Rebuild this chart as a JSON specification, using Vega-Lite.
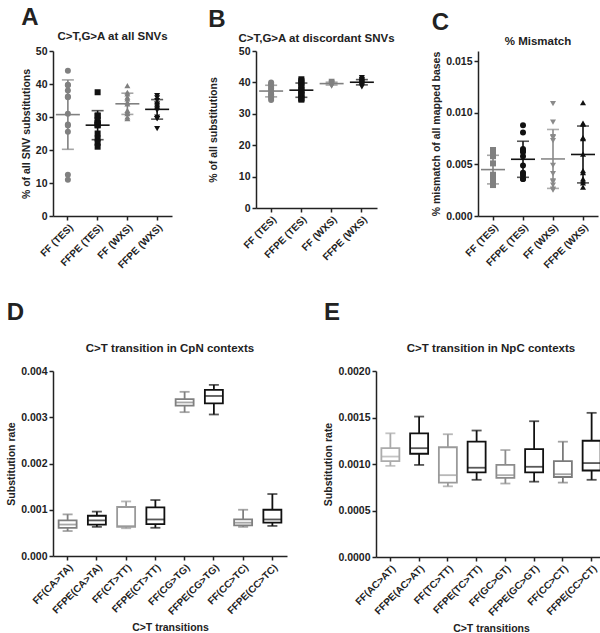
{
  "$schema": "https://vega.github.io/schema/vega-lite/v6.json",
  "padding": {"left": 6, "top": 5, "right": 0, "bottom": 0},
  "background": "white",
  "resolve": {"scale": {"color": "independent", "shape": "independent", "stroke": "independent"}},
  "config": {
    "font": "Liberation Sans",
    "view": {"stroke": null},
    "axis": {"grid": false, "domainColor": "#222", "domainWidth": 1.5, "tickColor": "#222", "tickWidth": 1.5, "tickSize": 4, "labelFont": "Liberation Sans", "labelFontWeight": "bold", "labelColor": "#222", "labelFontSize": 10.5, "titleFont": "Liberation Sans", "titleFontSize": 10.5, "titleFontWeight": "bold", "titleColor": "#222", "labelPadding": 2, "titlePadding": 4},
    "axisX": {"labelAngle": -45, "labelFontSize": 10},
    "title": {"font": "Liberation Sans", "fontSize": 11.5, "fontWeight": "bold", "color": "#222"}
  },
  "datasets": {
    "A": [
      {"g": "FF (TES)", "v": 44}, {"g": "FF (TES)", "v": 39.8}, {"g": "FF (TES)", "v": 39.6}, {"g": "FF (TES)", "v": 38}, {"g": "FF (TES)", "v": 36}, {"g": "FF (TES)", "v": 36.2}, {"g": "FF (TES)", "v": 31}, {"g": "FF (TES)", "v": 27.4}, {"g": "FF (TES)", "v": 27.7}, {"g": "FF (TES)", "v": 25.5}, {"g": "FF (TES)", "v": 12.5}, {"g": "FF (TES)", "v": 11},
      {"g": "FFPE (TES)", "v": 37.5}, {"g": "FFPE (TES)", "v": 30.5}, {"g": "FFPE (TES)", "v": 30.3}, {"g": "FFPE (TES)", "v": 29}, {"g": "FFPE (TES)", "v": 28.3}, {"g": "FFPE (TES)", "v": 28}, {"g": "FFPE (TES)", "v": 27.5}, {"g": "FFPE (TES)", "v": 27.5}, {"g": "FFPE (TES)", "v": 25}, {"g": "FFPE (TES)", "v": 23.5}, {"g": "FFPE (TES)", "v": 22.2}, {"g": "FFPE (TES)", "v": 21},
      {"g": "FF (WXS)", "v": 39.5}, {"g": "FF (WXS)", "v": 37.5}, {"g": "FF (WXS)", "v": 37}, {"g": "FF (WXS)", "v": 36}, {"g": "FF (WXS)", "v": 35.5}, {"g": "FF (WXS)", "v": 34.5}, {"g": "FF (WXS)", "v": 34}, {"g": "FF (WXS)", "v": 32}, {"g": "FF (WXS)", "v": 31.5}, {"g": "FF (WXS)", "v": 31}, {"g": "FF (WXS)", "v": 30}, {"g": "FF (WXS)", "v": 29.5},
      {"g": "FFPE (WXS)", "v": 36.5}, {"g": "FFPE (WXS)", "v": 35.8}, {"g": "FFPE (WXS)", "v": 35}, {"g": "FFPE (WXS)", "v": 34}, {"g": "FFPE (WXS)", "v": 33.5}, {"g": "FFPE (WXS)", "v": 33}, {"g": "FFPE (WXS)", "v": 32.5}, {"g": "FFPE (WXS)", "v": 32}, {"g": "FFPE (WXS)", "v": 30}, {"g": "FFPE (WXS)", "v": 29.5}, {"g": "FFPE (WXS)", "v": 29.5}, {"g": "FFPE (WXS)", "v": 26.5}
    ],
    "B": [
      {"g": "FF (TES)", "v": 40}, {"g": "FF (TES)", "v": 39.5}, {"g": "FF (TES)", "v": 39.2}, {"g": "FF (TES)", "v": 38.5}, {"g": "FF (TES)", "v": 38}, {"g": "FF (TES)", "v": 37.5}, {"g": "FF (TES)", "v": 37}, {"g": "FF (TES)", "v": 36.3}, {"g": "FF (TES)", "v": 36}, {"g": "FF (TES)", "v": 35.5}, {"g": "FF (TES)", "v": 35}, {"g": "FF (TES)", "v": 34.4},
      {"g": "FFPE (TES)", "v": 41}, {"g": "FFPE (TES)", "v": 40.5}, {"g": "FFPE (TES)", "v": 40}, {"g": "FFPE (TES)", "v": 39}, {"g": "FFPE (TES)", "v": 38.5}, {"g": "FFPE (TES)", "v": 37.5}, {"g": "FFPE (TES)", "v": 37}, {"g": "FFPE (TES)", "v": 36.5}, {"g": "FFPE (TES)", "v": 36}, {"g": "FFPE (TES)", "v": 35}, {"g": "FFPE (TES)", "v": 34.8}, {"g": "FFPE (TES)", "v": 34.5},
      {"g": "FF (WXS)", "v": 40.3}, {"g": "FF (WXS)", "v": 40.1}, {"g": "FF (WXS)", "v": 40}, {"g": "FF (WXS)", "v": 39.9}, {"g": "FF (WXS)", "v": 39.8}, {"g": "FF (WXS)", "v": 39.7}, {"g": "FF (WXS)", "v": 39.6}, {"g": "FF (WXS)", "v": 39.5}, {"g": "FF (WXS)", "v": 39.4}, {"g": "FF (WXS)", "v": 39.3}, {"g": "FF (WXS)", "v": 39.0}, {"g": "FF (WXS)", "v": 38.8},
      {"g": "FFPE (WXS)", "v": 41.5}, {"g": "FFPE (WXS)", "v": 41}, {"g": "FFPE (WXS)", "v": 40.8}, {"g": "FFPE (WXS)", "v": 40.5}, {"g": "FFPE (WXS)", "v": 40.3}, {"g": "FFPE (WXS)", "v": 40.1}, {"g": "FFPE (WXS)", "v": 40}, {"g": "FFPE (WXS)", "v": 39.8}, {"g": "FFPE (WXS)", "v": 39.6}, {"g": "FFPE (WXS)", "v": 39.4}, {"g": "FFPE (WXS)", "v": 39}, {"g": "FFPE (WXS)", "v": 38.6}
    ],
    "C": [
      {"g": "FF (TES)", "v": 0.0064}, {"g": "FF (TES)", "v": 0.0064}, {"g": "FF (TES)", "v": 0.0063}, {"g": "FF (TES)", "v": 0.0058}, {"g": "FF (TES)", "v": 0.0051}, {"g": "FF (TES)", "v": 0.0040}, {"g": "FF (TES)", "v": 0.0036}, {"g": "FF (TES)", "v": 0.0035}, {"g": "FF (TES)", "v": 0.0034}, {"g": "FF (TES)", "v": 0.0033}, {"g": "FF (TES)", "v": 0.0032}, {"g": "FF (TES)", "v": 0.0030},
      {"g": "FFPE (TES)", "v": 0.0088}, {"g": "FFPE (TES)", "v": 0.0081}, {"g": "FFPE (TES)", "v": 0.0065}, {"g": "FFPE (TES)", "v": 0.0063}, {"g": "FFPE (TES)", "v": 0.0062}, {"g": "FFPE (TES)", "v": 0.0058}, {"g": "FFPE (TES)", "v": 0.0049}, {"g": "FFPE (TES)", "v": 0.0042}, {"g": "FFPE (TES)", "v": 0.0041}, {"g": "FFPE (TES)", "v": 0.0039}, {"g": "FFPE (TES)", "v": 0.0036}, {"g": "FFPE (TES)", "v": 0.0036},
      {"g": "FF (WXS)", "v": 0.0109}, {"g": "FF (WXS)", "v": 0.0091}, {"g": "FF (WXS)", "v": 0.0077}, {"g": "FF (WXS)", "v": 0.0076}, {"g": "FF (WXS)", "v": 0.0073}, {"g": "FF (WXS)", "v": 0.0049}, {"g": "FF (WXS)", "v": 0.0041}, {"g": "FF (WXS)", "v": 0.0034}, {"g": "FF (WXS)", "v": 0.0033}, {"g": "FF (WXS)", "v": 0.0030}, {"g": "FF (WXS)", "v": 0.0026}, {"g": "FF (WXS)", "v": 0.0025},
      {"g": "FFPE (WXS)", "v": 0.0110}, {"g": "FFPE (WXS)", "v": 0.0090}, {"g": "FFPE (WXS)", "v": 0.0089}, {"g": "FFPE (WXS)", "v": 0.0076}, {"g": "FFPE (WXS)", "v": 0.0075}, {"g": "FFPE (WXS)", "v": 0.0060}, {"g": "FFPE (WXS)", "v": 0.0044}, {"g": "FFPE (WXS)", "v": 0.0042}, {"g": "FFPE (WXS)", "v": 0.0036}, {"g": "FFPE (WXS)", "v": 0.0034}, {"g": "FFPE (WXS)", "v": 0.0032}, {"g": "FFPE (WXS)", "v": 0.0028}
    ],
    "D": [
      {"c": "FF(CA>TA)", "min": 0.00054, "q1": 0.00061, "med": 0.00068, "q3": 0.00077, "max": 0.0009},
      {"c": "FFPE(CA>TA)", "min": 0.00063, "q1": 0.00068, "med": 0.00077, "q3": 0.00087, "max": 0.00096},
      {"c": "FF(CT>TT)", "min": 0.0006, "q1": 0.00063, "med": 0.00065, "q3": 0.00106, "max": 0.00118},
      {"c": "FFPE(CT>TT)", "min": 0.00061, "q1": 0.00069, "med": 0.00079, "q3": 0.00105, "max": 0.00121},
      {"c": "FF(CG>TG)", "min": 0.00311, "q1": 0.00325, "med": 0.00332, "q3": 0.00339, "max": 0.00355},
      {"c": "FFPE(CG>TG)", "min": 0.00306, "q1": 0.0033, "med": 0.00346, "q3": 0.00359, "max": 0.0037},
      {"c": "FF(CC>TC)", "min": 0.00063, "q1": 0.00066, "med": 0.00072, "q3": 0.00079, "max": 0.001},
      {"c": "FFPE(CC>TC)", "min": 0.00065, "q1": 0.00072, "med": 0.00079, "q3": 0.001, "max": 0.00134}
    ],
    "E": [
      {"c": "FF(AC>AT)", "min": 0.00098, "q1": 0.00103, "med": 0.00108, "q3": 0.00117, "max": 0.00133},
      {"c": "FFPE(AC>AT)", "min": 0.00099, "q1": 0.00111, "med": 0.00117, "q3": 0.00133, "max": 0.00151},
      {"c": "FF(TC>TT)", "min": 0.00076, "q1": 0.0008, "med": 0.00088, "q3": 0.00118, "max": 0.00132},
      {"c": "FFPE(TC>TT)", "min": 0.00083, "q1": 0.00091, "med": 0.00096, "q3": 0.00124, "max": 0.00136},
      {"c": "FF(GC>GT)", "min": 0.00079, "q1": 0.00085, "med": 0.00088, "q3": 0.00099, "max": 0.00115},
      {"c": "FFPE(GC>GT)", "min": 0.00081, "q1": 0.00091, "med": 0.00097, "q3": 0.00116, "max": 0.00146},
      {"c": "FF(CC>CT)", "min": 0.0008, "q1": 0.00086, "med": 0.00089, "q3": 0.00103, "max": 0.00124},
      {"c": "FFPE(CC>CT)", "min": 0.00083, "q1": 0.00093, "med": 0.00101, "q3": 0.00125, "max": 0.00155}
    ]
  },
  "vconcat": [
    {
      "resolve": {"scale": {"color": "independent", "shape": "independent", "stroke": "independent"}},
      "hconcat": [
        {
          "title": {"text": "A", "anchor": "start", "fontSize": 24, "offset": 1},
          "vconcat": [{
            "width": 119, "height": 165,
            "title": {"text": "C>T,G>A at all SNVs", "offset": 4},
            "data": {"name": "A"},
            "encoding": {"x": {"field": "g", "type": "nominal", "sort": ["FF (TES)", "FFPE (TES)", "FF (WXS)", "FFPE (WXS)"], "scale": {"type": "band", "paddingInner": 0, "paddingOuter": 0}, "axis": {"title": null}}},
            "layer": [
              {"mark": {"type": "point", "filled": true, "size": 36, "opacity": 1},
               "encoding": {
                 "y": {"field": "v", "type": "quantitative", "title": "% of all SNV substitutions", "scale": {"domain": [0, 50]}, "axis": {"values": [0, 10, 20, 30, 40, 50]}},
                 "color": {"field": "g", "type": "nominal", "scale": {"domain": ["FF (TES)", "FFPE (TES)", "FF (WXS)", "FFPE (WXS)"], "range": ["#808080", "#111111", "#808080", "#111111"]}, "legend": null},
                 "shape": {"field": "g", "type": "nominal", "scale": {"domain": ["FF (TES)", "FFPE (TES)", "FF (WXS)", "FFPE (WXS)"], "range": ["circle", "square", "triangle-up", "triangle-down"]}, "legend": null}}},
              {"mark": {"type": "errorbar", "extent": "stdev", "thickness": 1.6, "ticks": {"size": 12, "thickness": 1.6}},
               "encoding": {"y": {"field": "v", "type": "quantitative", "title": "% of all SNV substitutions", "axis": {"values": [0, 10, 20, 30, 40, 50]}}, "color": {"field": "g", "type": "nominal", "legend": null}}},
              {"mark": {"type": "tick", "size": 24, "thickness": 1.6},
               "encoding": {"y": {"aggregate": "mean", "field": "v", "type": "quantitative", "title": "% of all SNV substitutions", "axis": {"values": [0, 10, 20, 30, 40, 50]}}, "color": {"field": "g", "type": "nominal", "legend": null}}}
            ]
          }]
        },
        {
          "title": {"text": "B", "anchor": "start", "fontSize": 24, "offset": 1},
          "vconcat": [{
            "width": 121, "height": 157,
            "title": {"text": "C>T,G>A at discordant SNVs", "offset": 2},
            "data": {"name": "B"},
            "encoding": {"x": {"field": "g", "type": "nominal", "sort": ["FF (TES)", "FFPE (TES)", "FF (WXS)", "FFPE (WXS)"], "scale": {"type": "band", "paddingInner": 0, "paddingOuter": 0}, "axis": {"title": null}}},
            "layer": [
              {"mark": {"type": "point", "filled": true, "size": 36, "opacity": 1},
               "encoding": {
                 "y": {"field": "v", "type": "quantitative", "title": "% of all substitutions", "scale": {"domain": [0, 50]}, "axis": {"values": [0, 10, 20, 30, 40, 50], "titlePadding": 20}},
                 "color": {"field": "g", "type": "nominal", "scale": {"domain": ["FF (TES)", "FFPE (TES)", "FF (WXS)", "FFPE (WXS)"], "range": ["#808080", "#111111", "#808080", "#111111"]}, "legend": null},
                 "shape": {"field": "g", "type": "nominal", "scale": {"domain": ["FF (TES)", "FFPE (TES)", "FF (WXS)", "FFPE (WXS)"], "range": ["circle", "square", "triangle-down", "triangle-down"]}, "legend": null}}},
              {"mark": {"type": "errorbar", "extent": "stdev", "thickness": 1.6, "ticks": {"size": 12, "thickness": 1.6}},
               "encoding": {"y": {"field": "v", "type": "quantitative", "title": "% of all substitutions", "axis": {"values": [0, 10, 20, 30, 40, 50], "titlePadding": 20}}, "color": {"field": "g", "type": "nominal", "legend": null}}},
              {"mark": {"type": "tick", "size": 24, "thickness": 1.6},
               "encoding": {"y": {"aggregate": "mean", "field": "v", "type": "quantitative", "title": "% of all substitutions", "axis": {"values": [0, 10, 20, 30, 40, 50], "titlePadding": 20}}, "color": {"field": "g", "type": "nominal", "legend": null}}}
            ]
          }]
        },
        {
          "title": {"text": "C", "anchor": "start", "fontSize": 24, "offset": 1},
          "vconcat": [{
            "width": 120, "height": 165,
            "title": {"text": "% Mismatch", "offset": 4},
            "data": {"name": "C"},
            "encoding": {"x": {"field": "g", "type": "nominal", "sort": ["FF (TES)", "FFPE (TES)", "FF (WXS)", "FFPE (WXS)"], "scale": {"type": "band", "paddingInner": 0, "paddingOuter": 0}, "axis": {"title": null}}},
            "layer": [
              {"mark": {"type": "point", "filled": true, "size": 36, "opacity": 1},
               "encoding": {
                 "y": {"field": "v", "type": "quantitative", "title": "% mismatch of all mapped bases", "scale": {"domain": [0, 0.015]}, "axis": {"values": [0, 0.005, 0.01, 0.015], "format": ".3f"}},
                 "color": {"field": "g", "type": "nominal", "scale": {"domain": ["FF (TES)", "FFPE (TES)", "FF (WXS)", "FFPE (WXS)"], "range": ["#808080", "#111111", "#8a8a8a", "#111111"]}, "legend": null},
                 "shape": {"field": "g", "type": "nominal", "scale": {"domain": ["FF (TES)", "FFPE (TES)", "FF (WXS)", "FFPE (WXS)"], "range": ["square", "circle", "triangle-down", "triangle-up"]}, "legend": null}}},
              {"mark": {"type": "errorbar", "extent": "stdev", "thickness": 1.6, "ticks": {"size": 12, "thickness": 1.6}},
               "encoding": {"y": {"field": "v", "type": "quantitative", "title": "% mismatch of all mapped bases", "axis": {"values": [0, 0.005, 0.01, 0.015], "format": ".3f"}}, "color": {"field": "g", "type": "nominal", "legend": null}}},
              {"mark": {"type": "tick", "size": 24, "thickness": 1.6},
               "encoding": {"y": {"aggregate": "mean", "field": "v", "type": "quantitative", "title": "% mismatch of all mapped bases", "axis": {"values": [0, 0.005, 0.01, 0.015], "format": ".3f"}}, "color": {"field": "g", "type": "nominal", "legend": null}}}
            ]
          }]
        }
      ],
      "spacing": 36
    },
    {
      "resolve": {"scale": {"color": "independent", "shape": "independent", "stroke": "independent"}},
      "hconcat": [
        {
          "title": {"text": "D", "anchor": "start", "fontSize": 24, "offset": 18},
          "vconcat": [{
            "width": 234, "height": 185,
            "title": {"text": "C>T transition in CpN contexts", "offset": 12},
            "data": {"name": "D"},
            "encoding": {
              "x": {"field": "c", "type": "nominal", "sort": ["FF(CA>TA)", "FFPE(CA>TA)", "FF(CT>TT)", "FFPE(CT>TT)", "FF(CG>TG)", "FFPE(CG>TG)", "FF(CC>TC)", "FFPE(CC>TC)"], "scale": {"type": "band", "paddingInner": 0, "paddingOuter": 0}, "axis": {"title": "C>T transitions", "titlePadding": 6}},
              "color": {"field": "c", "type": "nominal", "scale": {"domain": ["FF(CA>TA)", "FFPE(CA>TA)", "FF(CT>TT)", "FFPE(CT>TT)", "FF(CG>TG)", "FFPE(CG>TG)", "FF(CC>TC)", "FFPE(CC>TC)"], "range": ["#808080", "#111111", "#9a9a9a", "#111111", "#808080", "#111111", "#808080", "#111111"]}, "legend": null}
            },
            "layer": [
              {"mark": {"type": "rule", "strokeWidth": 1.8},
               "encoding": {"y": {"field": "min", "type": "quantitative", "title": "Substitution rate", "scale": {"domain": [0, 0.004]}, "axis": {"values": [0, 0.001, 0.002, 0.003, 0.004], "format": ".3f"}}, "y2": {"field": "max"}}},
              {"mark": {"type": "bar", "size": 18, "fill": "white", "strokeWidth": 1.8},
               "encoding": {"y": {"field": "q1", "type": "quantitative", "title": "Substitution rate"}, "y2": {"field": "q3"}, "stroke": {"field": "c", "type": "nominal", "scale": {"domain": ["FF(CA>TA)", "FFPE(CA>TA)", "FF(CT>TT)", "FFPE(CT>TT)", "FF(CG>TG)", "FFPE(CG>TG)", "FF(CC>TC)", "FFPE(CC>TC)"], "range": ["#808080", "#111111", "#9a9a9a", "#111111", "#808080", "#111111", "#808080", "#111111"]}, "legend": null}, "color": null}},
              {"mark": {"type": "tick", "size": 18, "thickness": 1.8},
               "encoding": {"y": {"field": "med", "type": "quantitative", "title": "Substitution rate"}}},
              {"mark": {"type": "tick", "size": 10, "thickness": 1.8},
               "encoding": {"y": {"field": "min", "type": "quantitative", "title": "Substitution rate"}}},
              {"mark": {"type": "tick", "size": 10, "thickness": 1.8},
               "encoding": {"y": {"field": "max", "type": "quantitative", "title": "Substitution rate"}}}
            ]
          }]
        },
        {
          "title": {"text": "E", "anchor": "start", "fontSize": 24, "offset": 18},
          "vconcat": [{
            "width": 230, "height": 186,
            "title": {"text": "C>T transition in NpC contexts", "offset": 12},
            "data": {"name": "E"},
            "encoding": {
              "x": {"field": "c", "type": "nominal", "sort": ["FF(AC>AT)", "FFPE(AC>AT)", "FF(TC>TT)", "FFPE(TC>TT)", "FF(GC>GT)", "FFPE(GC>GT)", "FF(CC>CT)", "FFPE(CC>CT)"], "scale": {"type": "band", "paddingInner": 0, "paddingOuter": 0}, "axis": {"title": "C>T transitions", "titlePadding": 6}},
              "color": {"field": "c", "type": "nominal", "scale": {"domain": ["FF(AC>AT)", "FFPE(AC>AT)", "FF(TC>TT)", "FFPE(TC>TT)", "FF(GC>GT)", "FFPE(GC>GT)", "FF(CC>CT)", "FFPE(CC>CT)"], "range": ["#ababab", "#111111", "#9a9a9a", "#111111", "#8c8c8c", "#111111", "#7a7a7a", "#111111"]}, "legend": null}
            },
            "layer": [
              {"mark": {"type": "rule", "strokeWidth": 1.8},
               "encoding": {"y": {"field": "min", "type": "quantitative", "title": "Substitution rate", "scale": {"domain": [0, 0.002]}, "axis": {"values": [0, 0.0005, 0.001, 0.0015, 0.002], "format": ".4f"}}, "y2": {"field": "max"}}},
              {"mark": {"type": "bar", "size": 18, "fill": "white", "strokeWidth": 1.8},
               "encoding": {"y": {"field": "q1", "type": "quantitative", "title": "Substitution rate"}, "y2": {"field": "q3"}, "stroke": {"field": "c", "type": "nominal", "scale": {"domain": ["FF(AC>AT)", "FFPE(AC>AT)", "FF(TC>TT)", "FFPE(TC>TT)", "FF(GC>GT)", "FFPE(GC>GT)", "FF(CC>CT)", "FFPE(CC>CT)"], "range": ["#ababab", "#111111", "#9a9a9a", "#111111", "#8c8c8c", "#111111", "#7a7a7a", "#111111"]}, "legend": null}, "color": null}},
              {"mark": {"type": "tick", "size": 18, "thickness": 1.8},
               "encoding": {"y": {"field": "med", "type": "quantitative", "title": "Substitution rate"}}},
              {"mark": {"type": "tick", "size": 10, "thickness": 1.8},
               "encoding": {"y": {"field": "min", "type": "quantitative", "title": "Substitution rate"}}},
              {"mark": {"type": "tick", "size": 10, "thickness": 1.8},
               "encoding": {"y": {"field": "max", "type": "quantitative", "title": "Substitution rate"}}}
            ]
          }]
        }
      ],
      "spacing": 36
    }
  ],
  "spacing": 30
}
